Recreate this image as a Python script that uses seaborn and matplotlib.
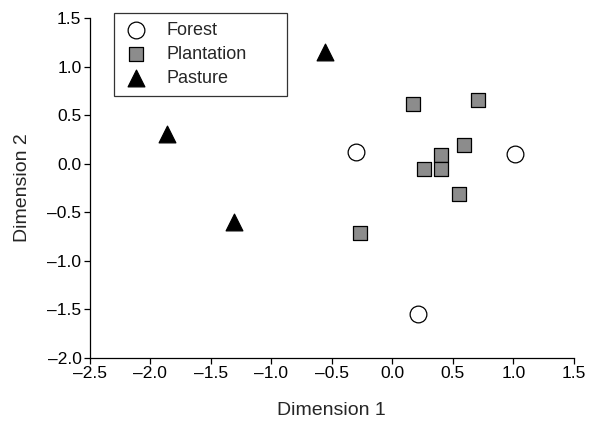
import matplotlib
matplotlib.use("Agg")
import matplotlib.pyplot as plt
import seaborn as sns

# MDS ordination coordinates
forest_x = [-0.30, 1.01, 0.21]
forest_y = [0.12, 0.10, -1.55]

plantation_x = [0.17, 0.71, 0.59, 0.40, 0.40, 0.26, 0.55, -0.27]
plantation_y = [0.62, 0.66, 0.19, 0.09, -0.05, -0.05, -0.31, -0.71]

pasture_x = [-1.86, -1.31, -0.56]
pasture_y = [0.31, -0.60, 1.15]

x_ticks = [-2.5, -2.0, -1.5, -1.0, -0.5, 0.0, 0.5, 1.0, 1.5]
y_ticks = [-2.0, -1.5, -1.0, -0.5, 0.0, 0.5, 1.0, 1.5]

sns.set_style("ticks")
plt.rcParams["font.family"] = ["Liberation Sans", "DejaVu Sans"]

fig = plt.figure(figsize=(5.91, 4.21), dpi=100)
ax = fig.add_axes([0.152, 0.150, 0.819, 0.807])

sns.scatterplot(x=forest_x, y=forest_y, marker="o", s=145, color="white",
                edgecolor="black", linewidth=0.9, label="Forest", ax=ax, zorder=3)
sns.scatterplot(x=plantation_x, y=plantation_y, marker="s", s=105, color="#8c8c8c",
                edgecolor="black", linewidth=0.9, label="Plantation", ax=ax, zorder=3)
sns.scatterplot(x=pasture_x, y=pasture_y, marker="^", s=145, color="black",
                edgecolor="black", linewidth=0.9, label="Pasture", ax=ax, zorder=3)

ax.set_xlim(-2.5, 1.5)
ax.set_ylim(-2.0, 1.5)
ax.set_xticks(x_ticks)
ax.set_yticks(y_ticks)
ax.set_xticklabels([f"{v:.1f}".replace("-", "\u2013") for v in x_ticks])
ax.set_yticklabels([f"{v:.1f}".replace("-", "\u2013") for v in y_ticks])
ax.tick_params(direction="out", length=4, width=0.9, labelsize=12.5, colors="black", pad=2)
for side in ["left", "bottom"]:
    ax.spines[side].set_linewidth(0.9)
    ax.spines[side].set_color("black")
sns.despine(ax=ax)

ax.set_xlabel("Dimension 1", fontsize=14, labelpad=15)
ax.set_ylabel("Dimension 2", fontsize=14, labelpad=12)

leg = ax.legend(loc="upper left",
                bbox_to_anchor=(114 / 591, 1 - 97 / 421, 173 / 591, 84 / 421),
                bbox_transform=fig.transFigure, mode="expand", borderaxespad=0,
                frameon=True, fancybox=False, fontsize=13, handletextpad=1.0,
                borderpad=0.5, labelspacing=0.38, handlelength=1.4)
leg.get_frame().set_edgecolor("black")
leg.get_frame().set_linewidth(0.9)

fig.savefig("out.png", dpi=100)
